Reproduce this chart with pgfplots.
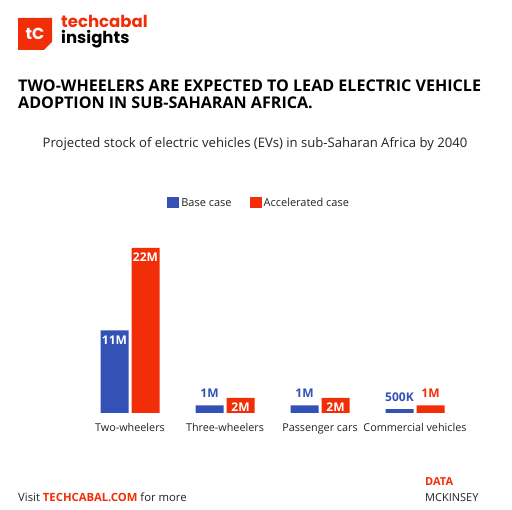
\documentclass[border=0pt]{standalone}
\usepackage{fontspec}
\setmainfont{Open Sans}
\newfontfamily\logofont{Poppins}
\usepackage{pgfplots}
\pgfplotsset{compat=1.18}
\definecolor{tcblue}{RGB}{52,82,182}
\definecolor{tcred}{RGB}{242,46,8}
\definecolor{txt}{RGB}{35,35,35}
\begin{document}
\begin{tikzpicture}[x=1pt,y=1pt]
\useasboundingbox[fill=white] (0,0) rectangle (512,510);
% logo
\fill[tcred] (18,492) -- (52,492) -- (52,468) -- (44,460) -- (18,460) -- cycle;
\node[white, font=\logofont\bfseries\fontsize{16}{16}\selectfont] at (35,476) {tC};
\node[anchor=base west, tcred, inner sep=0, font=\logofont\bfseries\fontsize{16.5}{16.5}\selectfont] at (61,482) {techcabal};
\node[anchor=base west, black, inner sep=0, font=\logofont\bfseries\fontsize{16.5}{16.5}\selectfont] at (61,466) {insights};
% titles
\node[anchor=base west, inner sep=0, font=\bfseries\fontsize{16.1}{18}\selectfont] at (18,418) {TWO-WHEELERS ARE EXPECTED TO LEAD ELECTRIC VEHICLE};
\node[anchor=base west, inner sep=0, font=\bfseries\fontsize{16.1}{18}\selectfont] at (18,401) {ADOPTION IN SUB-SAHARAN AFRICA.};
\node[anchor=base, inner sep=0, txt, font=\fontsize{13.1}{15}\selectfont] at (255,362) {Projected stock of electric vehicles (EVs) in sub-Saharan Africa by 2040};
% footer
\node[anchor=base west, inner sep=0, txt, font=\fontsize{11.3}{13}\selectfont] at (18,8) {Visit \textcolor{tcred}{\bfseries TECHCABAL.COM} for more};
\node[anchor=base west, inner sep=0, tcred, font=\bfseries\fontsize{11}{13}\selectfont] at (425,24) {DATA};
\node[anchor=base west, inner sep=0, txt, font=\fontsize{11}{13}\selectfont] at (425,8) {MCKINSEY};
\begin{axis}[
  scale only axis, width=380pt, height=187.5pt,
  anchor=south west, at={(82.5pt,97pt)},
  xmin=-0.5, xmax=3.5, ymin=0, ymax=25,
  axis x line*=bottom, axis y line=none,
  x axis line style={draw=none},
  xtick={0,1,2,3},
  xticklabels={Two-wheelers,Three-wheelers,Passenger cars,Commercial vehicles},
  xtick style={draw=none}, major tick length=0pt,
  xticklabel style={anchor=base, yshift=-19pt, inner sep=0pt, text=txt, font=\fontsize{10.8}{13}\selectfont},
  clip=false,
  legend style={draw=none, fill=none, at={(0.465,1.12)}, anchor=center, font=\fontsize{11}{13}\selectfont, text=txt,
    /tikz/every even column/.append style={column sep=16pt}},
  legend columns=2,
]
\addplot[ybar, bar width=28pt, bar shift=-15.5pt, fill=tcblue, draw=none,
  legend image code/.code={\fill[tcblue] (-2pt,-5.5pt) rectangle (10pt,5.5pt);}]
  coordinates {(0,11) (1,1) (2,1) (3,0.5)};
\addlegendentry{Base case}
\addplot[ybar, bar width=28pt, bar shift=15.5pt, fill=tcred, draw=none,
  legend image code/.code={\fill[tcred] (-2pt,-5.5pt) rectangle (10pt,5.5pt);}]
  coordinates {(0,22) (1,2) (2,2) (3,1)};
\addlegendentry{Accelerated case}
% labels inside bars
\addplot[draw=none, mark=none, forget plot, point meta=explicit symbolic, nodes near coords,
  every node near coord/.style={anchor=north, inner sep=0pt, yshift=-5pt, xshift=-15.5pt, text=white, font=\bfseries\fontsize{12}{13}\selectfont}]
  coordinates {(0,11) [11M]};
\addplot[draw=none, mark=none, forget plot, point meta=explicit symbolic, nodes near coords,
  every node near coord/.style={anchor=north, inner sep=0pt, yshift=-5pt, xshift=15.5pt, text=white, font=\bfseries\fontsize{12}{13}\selectfont}]
  coordinates {(0,22) [22M] (1,2) [2M] (2,2) [2M]};
% labels above bars
\addplot[draw=none, mark=none, forget plot, point meta=explicit symbolic, nodes near coords,
  every node near coord/.style={anchor=base, inner sep=0pt, yshift=8pt, xshift=-15.5pt, text=tcblue, font=\bfseries\fontsize{12}{13}\selectfont}]
  coordinates {(1,1) [1M] (2,1) [1M] (3,0.5) [500K]};
\addplot[draw=none, mark=none, forget plot, point meta=explicit symbolic, nodes near coords,
  every node near coord/.style={anchor=base, inner sep=0pt, yshift=8pt, xshift=15.5pt, text=tcred, font=\bfseries\fontsize{12}{13}\selectfont}]
  coordinates {(3,1) [1M]};
\end{axis}
\end{tikzpicture}
\end{document}
